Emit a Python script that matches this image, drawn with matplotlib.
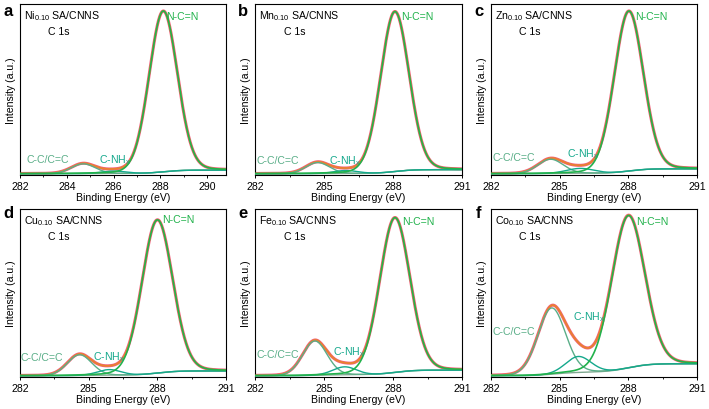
import numpy as np
import matplotlib
matplotlib.use("Agg")
import matplotlib.pyplot as plt
from matplotlib.ticker import MultipleLocator

plt.rcParams['font.family'] = ['Liberation Sans', 'DejaVu Sans']
plt.rcParams['mathtext.default'] = 'regular'

# ---- data ----
panel_letters = ['a', 'b', 'c', 'd', 'e', 'f']
metals = ['Ni', 'Mn', 'Zn', 'Cu', 'Fe', 'Co']
x_max = [290.8, 291, 291, 291, 291, 291]
major_step = [2, 3, 3, 3, 3, 3]
minor_step = [1, 1.5, 1.5, 1.5, 1.5, 1.5]

ncn_center = [288.12, 288.08, 288.02, 288.0, 288.08, 288.0]
ncn_height = [0.99, 0.985, 0.985, 0.96, 0.97, 0.955]
ncn_fwhm = [1.43, 1.46, 1.5, 1.58, 1.55, 1.7]

cc_center = [284.7, 284.72, 284.6, 284.6, 284.6, 284.65]
cc_height = [0.06, 0.068, 0.088, 0.13, 0.215, 0.415]
cc_fwhm = [1.2, 1.2, 1.3, 1.25, 1.25, 1.42]

cnh_center = [286.0, 285.95, 285.9, 285.9, 285.9, 285.82]
cnh_height = [0.015, 0.018, 0.03, 0.035, 0.05, 0.1]
cnh_fwhm = [1.2, 1.2, 1.4, 1.2, 1.2, 1.3]

lorentz_fraction = [0.08, 0.08, 0.08, 0.08, 0.08, 0.08]
bg_high = [0.022, 0.025, 0.03, 0.03, 0.035, 0.075]

# label positions (data coords)
cc_label_xy = [(283.2, 0.09), (283.0, 0.085), (283.0, 0.10), (282.95, 0.12), (283.0, 0.135), (283.0, 0.28)]
cnh_label_xy = [(286.05, 0.09), (285.9, 0.085), (286.0, 0.125), (285.9, 0.12), (286.1, 0.155), (286.3, 0.375)]
ncn_label_xy = [(288.25, 0.97), (288.35, 0.97), (288.3, 0.97), (288.2, 0.98), (288.4, 0.97), (288.35, 0.97)]

# ---- styles ----
c_raw = '#f2607c'
c_env = '#e8842c'
c_ncn = '#22b24c'
c_cc = '#5aae88'
c_cnh = '#14a88c'
c_bg = '#7fa890'

fs = 7.6
W, H = 709, 410
lefts = [20, 255, 491]
widths = [206, 207, 206]
rows = [(5, 176), (210, 378)]

fig = plt.figure(figsize=(W / 100, H / 100), dpi=100)

def peak(x, c, h, fwhm, eta):
    s = fwhm / 2.3548
    g = np.exp(-0.5 * ((x - c) / s) ** 2)
    lo = 1.0 / (1.0 + ((x - c) / (fwhm / 2)) ** 2)
    return h * ((1 - eta) * g + eta * lo)

for i in range(6):
    r, col = divmod(i, 3)
    top, bot = rows[r]
    ax = fig.add_axes([lefts[col] / W, (H - bot) / H, widths[col] / W, (bot - top) / H])
    x = np.linspace(282, 291, 900)
    eta = lorentz_fraction[i]
    g_ncn = peak(x, ncn_center[i], ncn_height[i], ncn_fwhm[i], eta)
    g_cc = peak(x, cc_center[i], cc_height[i], cc_fwhm[i], eta)
    g_cnh = peak(x, cnh_center[i], cnh_height[i], cnh_fwhm[i], eta)
    tot = g_ncn + g_cc + g_cnh
    cum = np.cumsum(tot)
    bg = bg_high[i] * cum / cum[-1]
    env = bg + tot

    ax.plot(x, env, color=c_raw, lw=2.2, zorder=2)
    ax.plot(x, env, color=c_env, lw=1.2, zorder=3)
    ax.plot(x, bg, color=c_bg, lw=1.0, zorder=4)
    ax.plot(x, bg + g_cc, color=c_cc, lw=1.0, zorder=5)
    ax.plot(x, bg + g_cnh, color=c_cnh, lw=1.0, zorder=5)
    ax.plot(x, bg + g_ncn, color=c_ncn, lw=1.2, zorder=6)

    ax.set_xlim(282, x_max[i])
    ax.set_ylim(-0.008, 1.045)
    ax.xaxis.set_major_locator(MultipleLocator(major_step[i]))
    ax.xaxis.set_minor_locator(MultipleLocator(minor_step[i]))
    ax.set_yticks([])
    ax.tick_params(axis='x', which='major', direction='out', length=2.5, width=0.7,
                   labelsize=fs, pad=1.5)
    ax.tick_params(axis='x', which='minor', direction='out', length=1.5, width=0.6)
    for sp in ax.spines.values():
        sp.set_linewidth(0.8)
    ax.set_xlabel('Binding Energy (eV)', fontsize=fs, labelpad=1)
    ax.set_ylabel('Intensity (a.u.)', fontsize=fs, labelpad=3)

    ax.text(0.018, 0.935, metals[i] + r'$_{0.10}$ SA/CNNS', transform=ax.transAxes,
            fontsize=fs, ha='left', va='center')
    ax.text(0.19, 0.84, 'C 1s', transform=ax.transAxes, fontsize=fs, ha='center', va='center')

    ax.text(*cc_label_xy[i], 'C-C/C=C', color=c_cc, fontsize=fs, ha='center', va='center', zorder=7)
    ax.text(*cnh_label_xy[i], r'C-NH$_x$', color=c_cnh, fontsize=fs, ha='center', va='center', zorder=7)
    ax.text(*ncn_label_xy[i], 'N-C=N', color=c_ncn, fontsize=fs, ha='left', va='center', zorder=7)

    lx = [8, 243, 479][col]
    ly = [12, 214][r]
    fig.text(lx / W, 1 - ly / H, panel_letters[i], fontsize=12, fontweight='bold',
             ha='center', va='center')

fig.savefig('out.png', dpi=100)
